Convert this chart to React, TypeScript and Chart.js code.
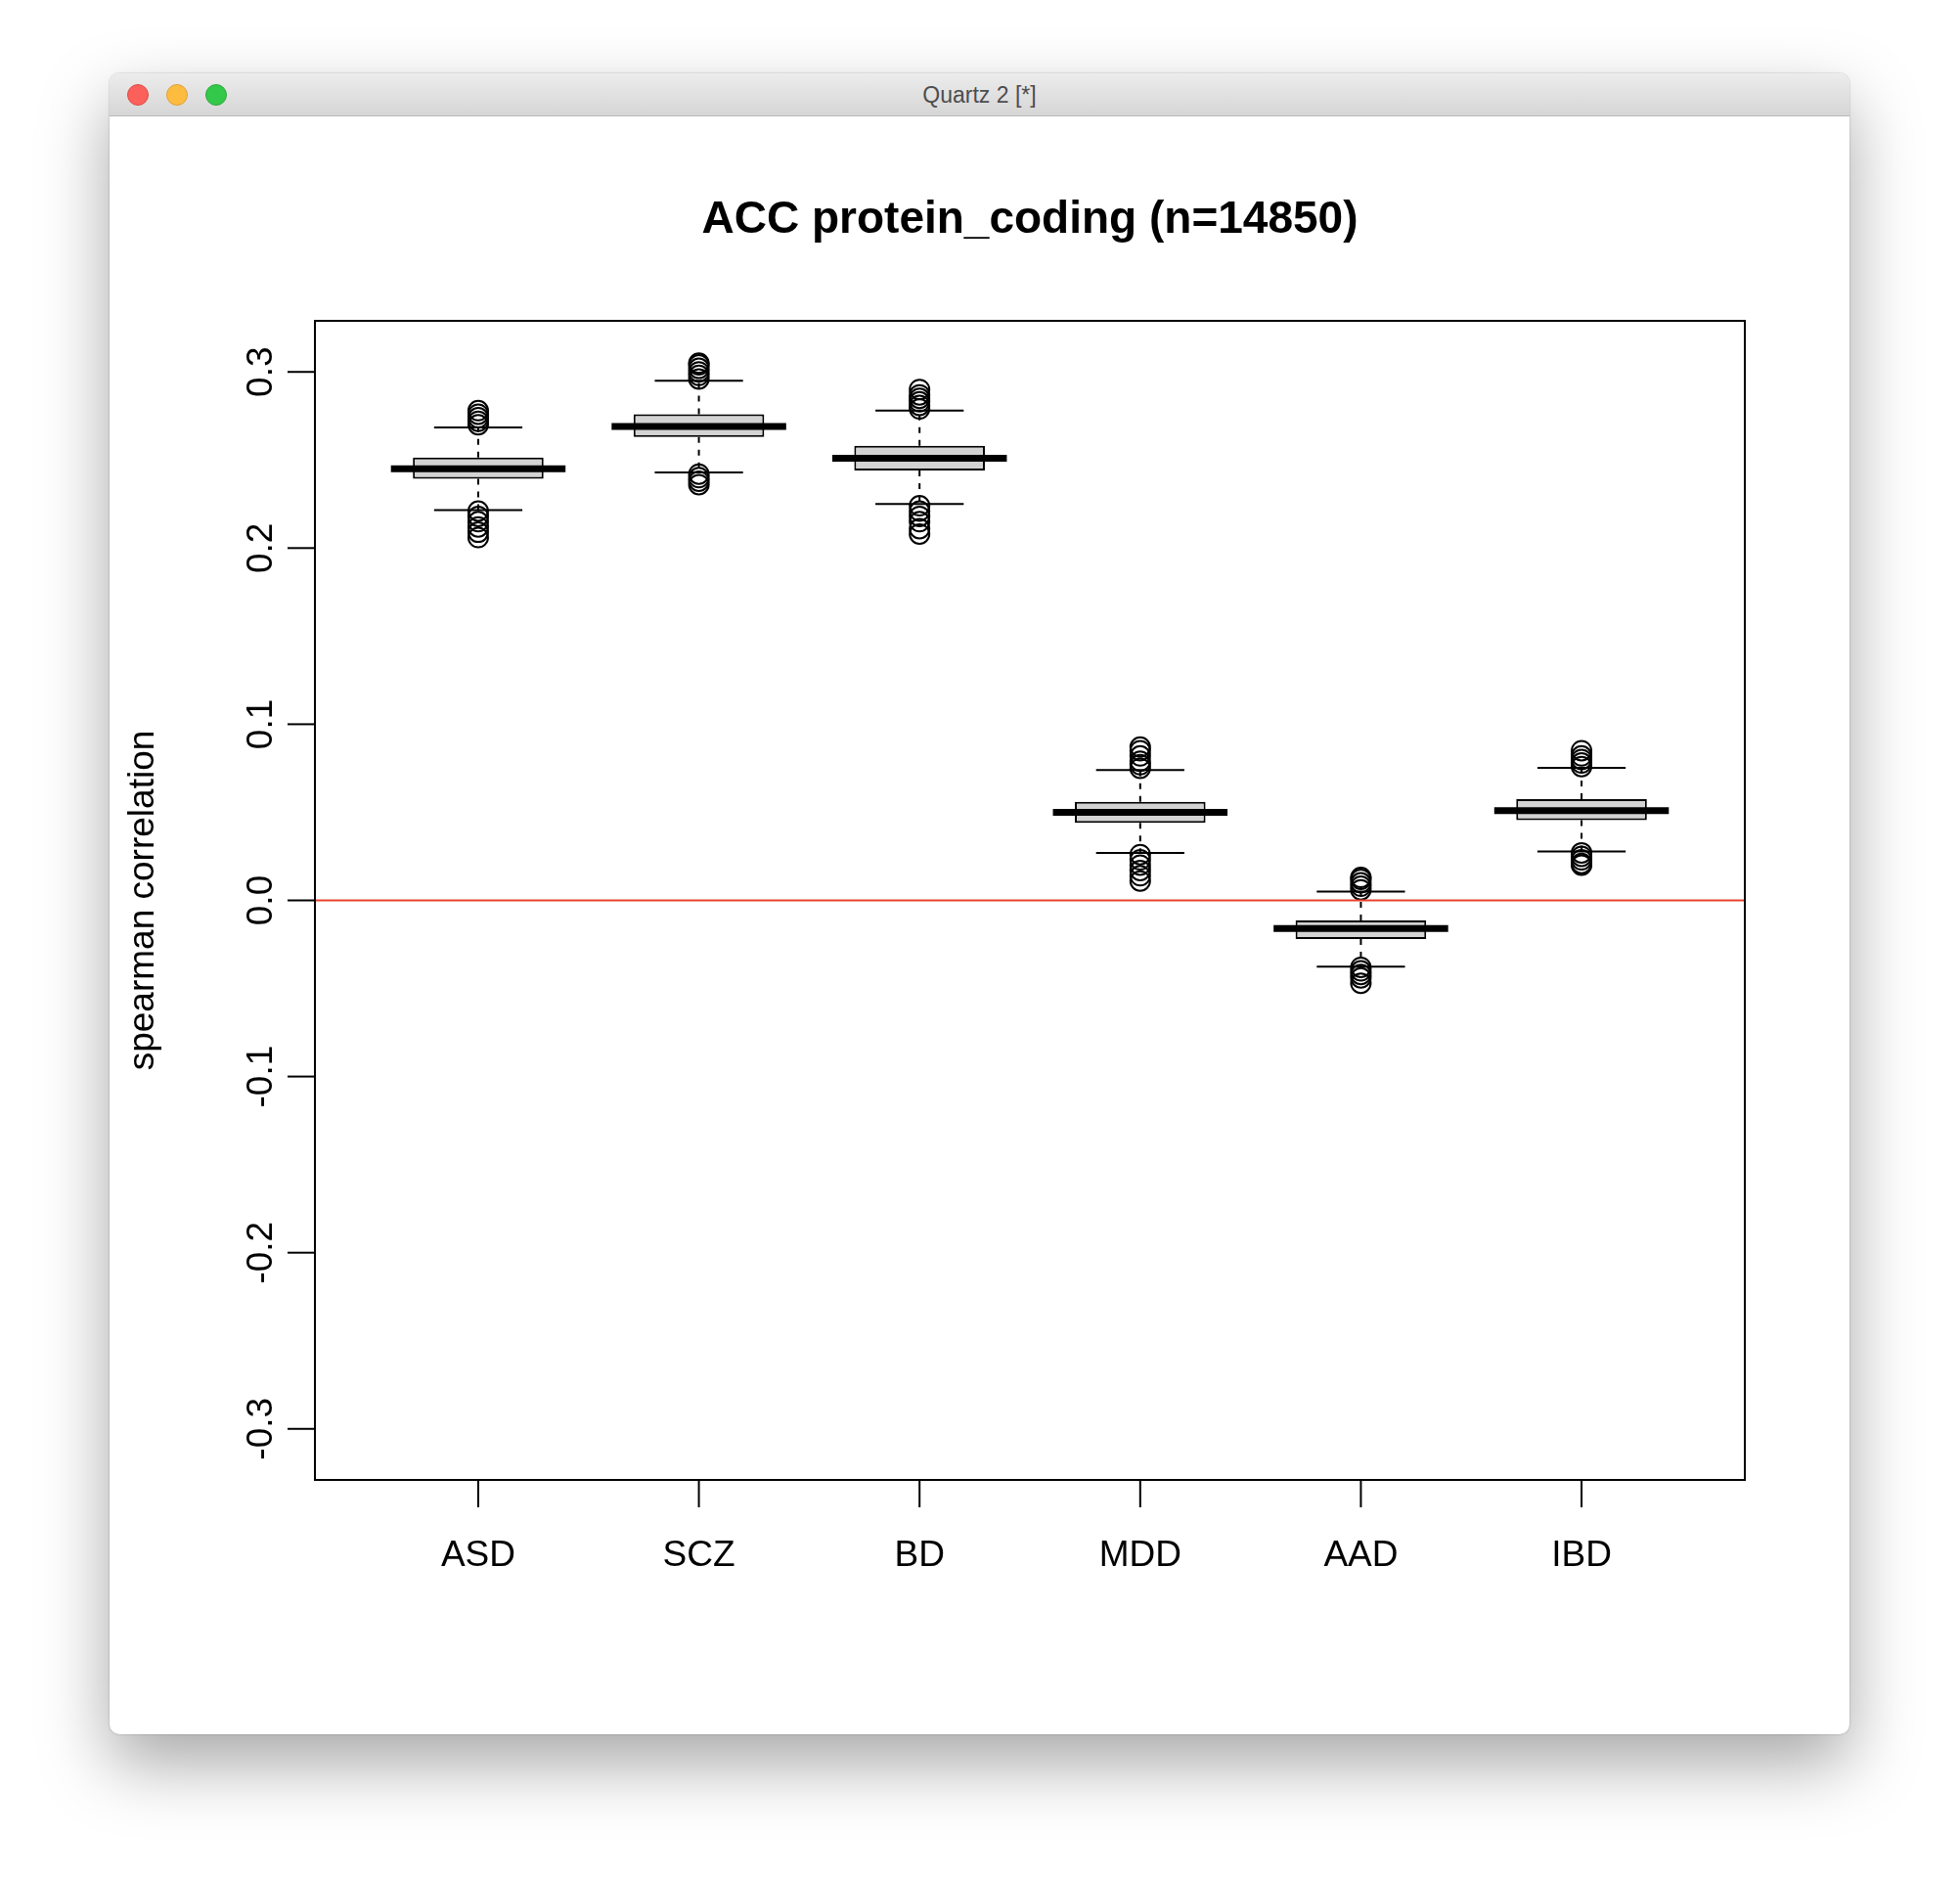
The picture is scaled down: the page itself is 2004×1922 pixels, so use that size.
import React, { useEffect, useRef } from 'react';
import { Chart, registerables } from 'chart.js';

Chart.register(...registerables);

const categories = ['ASD', 'SCZ', 'BD', 'MDD', 'AAD', 'IBD'];
const q1 = [0.2393, 0.263, 0.244, 0.044, -0.022, 0.0455];
const medians = [0.245, 0.269, 0.251, 0.05, -0.016, 0.051];
const q3 = [0.2514, 0.276, 0.258, 0.056, -0.0114, 0.0575];
const whiskerLow = [0.2216, 0.243, 0.225, 0.027, -0.0376, 0.0277];
const whiskerHigh = [0.2685, 0.295, 0.278, 0.074, 0.005, 0.0753];
const outliersHigh = [
  [0.27, 0.272, 0.274, 0.276, 0.278],
  [0.296, 0.298, 0.3, 0.302, 0.304, 0.305],
  [0.279, 0.281, 0.283, 0.285, 0.287, 0.29],
  [0.075, 0.077, 0.079, 0.082, 0.085, 0.087],
  [0.006, 0.008, 0.01, 0.012, 0.013],
  [0.076, 0.078, 0.08, 0.082, 0.085],
];
const outliersLow = [
  [0.221, 0.218, 0.215, 0.212, 0.209, 0.206],
  [0.242, 0.24, 0.238, 0.236],
  [0.224, 0.221, 0.218, 0.215, 0.211, 0.208],
  [0.026, 0.023, 0.02, 0.017, 0.014, 0.011],
  [-0.038, -0.04, -0.042, -0.044, -0.047],
  [0.027, 0.025, 0.023, 0.021, 0.02],
];
const yTicks = [-0.3, -0.2, -0.1, 0.0, 0.1, 0.2, 0.3];

const FONT = '"Liberation Sans", Arial, Helvetica, sans-serif';

const rPlot = {
  id: 'rPlot',
  afterDatasetsDraw(chart: any) {
    const { ctx, chartArea: a, scales } = chart;
    const xs = scales.x, ys = scales.y;
    ctx.save();
    // zero line
    ctx.strokeStyle = '#e8412f';
    ctx.lineWidth = 2;
    ctx.beginPath();
    ctx.moveTo(a.left, ys.getPixelForValue(0));
    ctx.lineTo(a.right, ys.getPixelForValue(0));
    ctx.stroke();
    ctx.strokeStyle = '#000';
    categories.forEach((_, i) => {
      const x = xs.getPixelForValue(i + 1);
      const capW = xs.getPixelForValue(1.2) - xs.getPixelForValue(1);
      const boxW = xs.getPixelForValue(1.4) - xs.getPixelForValue(1);
      // dashed whiskers
      ctx.lineWidth = 2;
      ctx.setLineDash([6, 7]);
      ctx.beginPath();
      ctx.moveTo(x, ys.getPixelForValue(q3[i]));
      ctx.lineTo(x, ys.getPixelForValue(whiskerHigh[i]));
      ctx.moveTo(x, ys.getPixelForValue(q1[i]));
      ctx.lineTo(x, ys.getPixelForValue(whiskerLow[i]));
      ctx.stroke();
      ctx.setLineDash([]);
      ctx.beginPath();
      [whiskerHigh[i], whiskerLow[i]].forEach(v => {
        const y = ys.getPixelForValue(v);
        ctx.moveTo(x - capW, y);
        ctx.lineTo(x + capW, y);
      });
      ctx.stroke();
      // median
      ctx.lineWidth = 7;
      ctx.beginPath();
      const ym = ys.getPixelForValue(medians[i]);
      ctx.moveTo(x - boxW + 1, ym);
      ctx.lineTo(x + boxW - 1, ym);
      ctx.stroke();
    });
    // axes box
    ctx.lineWidth = 2;
    ctx.strokeRect(a.left, a.top, a.right - a.left, a.bottom - a.top);
    ctx.fillStyle = '#000';
    ctx.font = `37px ${FONT}`;
    // y ticks
    yTicks.forEach(v => {
      const y = ys.getPixelForValue(v);
      ctx.beginPath();
      ctx.moveTo(a.left - 28, y);
      ctx.lineTo(a.left, y);
      ctx.stroke();
      ctx.save();
      ctx.translate(a.left - 54, y);
      ctx.rotate(-Math.PI / 2);
      ctx.textAlign = 'center';
      ctx.textBaseline = 'middle';
      ctx.fillText(v.toFixed(1), 0, 0);
      ctx.restore();
    });
    // x ticks
    categories.forEach((c, i) => {
      const x = xs.getPixelForValue(i + 1);
      ctx.beginPath();
      ctx.moveTo(x, a.bottom);
      ctx.lineTo(x, a.bottom + 28);
      ctx.stroke();
      ctx.textAlign = 'center';
      ctx.textBaseline = 'middle';
      ctx.fillText(c, x, a.bottom + 78);
    });
    // y label
    ctx.save();
    ctx.translate(a.left - 175, (a.top + a.bottom) / 2);
    ctx.rotate(-Math.PI / 2);
    ctx.textAlign = 'center';
    ctx.textBaseline = 'middle';
    ctx.fillText('spearman correlation', 0, 0);
    ctx.restore();
    // title
    ctx.font = `bold 46px ${FONT}`;
    ctx.textAlign = 'center';
    ctx.textBaseline = 'middle';
    ctx.fillText('ACC protein_coding (n=14850)', (a.left + a.right) / 2, a.top - 103);
    ctx.restore();
  },
};

const BoxChart: React.FC = () => {
  const canvasRef = useRef<HTMLCanvasElement>(null);
  const chartRef = useRef<Chart | null>(null);

  useEffect(() => {
    if (!canvasRef.current) return;
    const outlierPoints: { x: number; y: number }[] = [];
    categories.forEach((_, i) => {
      outliersHigh[i].forEach(v => outlierPoints.push({ x: i + 1, y: v }));
      outliersLow[i].forEach(v => outlierPoints.push({ x: i + 1, y: v }));
    });
    chartRef.current = new Chart(canvasRef.current, {
      type: 'bar',
      data: {
        datasets: [
          {
            type: 'bar',
            data: categories.map((_, i) => ({ x: i + 1, y: [q1[i], q3[i]] })) as any,
            backgroundColor: '#d3d3d3',
            borderColor: '#000',
            borderWidth: 2,
            borderSkipped: false,
            barPercentage: 0.8,
            categoryPercentage: 1,
          },
          {
            type: 'scatter',
            data: outlierPoints as any,
            pointStyle: 'circle',
            pointRadius: 10,
            backgroundColor: 'rgba(0,0,0,0)',
            borderColor: '#000',
            borderWidth: 2,
          } as any,
        ],
      },
      options: {
        animation: false,
        responsive: false,
        layout: { padding: { left: 210, right: 107, top: 209, bottom: 260 } },
        plugins: { legend: { display: false }, tooltip: { enabled: false } },
        scales: {
          x: { type: 'linear', min: 0.26, max: 6.74, display: false, offset: false },
          y: { type: 'linear', min: -0.329, max: 0.329, display: false },
        },
      },
      plugins: [rPlot],
    });
    return () => {
      chartRef.current?.destroy();
      chartRef.current = null;
    };
  }, []);

  return <canvas ref={canvasRef} width={1779} height={1654} style={{ display: 'block' }} />;
};

export default function App() {
  const dot = (c: string, b: string) => (
    <div style={{ width: 22, height: 22, borderRadius: 11, background: c, border: `1px solid ${b}`, boxSizing: 'border-box' }} />
  );
  return (
    <div style={{ position: 'absolute', left: 0, top: 0, width: 2004, height: 1922, background: '#fff', overflow: 'hidden' }}>
      <div
        style={{
          position: 'absolute', left: 112, top: 75, width: 1779, height: 1698,
          borderRadius: 10, overflow: 'hidden', background: '#fff',
          boxShadow: '0 30px 70px rgba(0,0,0,0.35), 0 0 2px rgba(0,0,0,0.3)',
        }}
      >
        <div
          style={{
            height: 44, background: 'linear-gradient(#ececec, #d6d6d6)', borderBottom: '1px solid #b8b8b8',
            position: 'relative', boxSizing: 'border-box',
          }}
        >
          <div style={{ position: 'absolute', left: 18, top: 11, display: 'flex', gap: 18 }}>
            {dot('#fc605b', '#de4a44')}
            {dot('#fdbc40', '#dea136')}
            {dot('#34c84a', '#2aa83c')}
          </div>
          <div style={{ textAlign: 'center', lineHeight: '44px', fontFamily: FONT, fontSize: 23, color: '#4d4d4d' }}>
            Quartz 2 [*]
          </div>
        </div>
        <BoxChart />
      </div>
    </div>
  );
}
